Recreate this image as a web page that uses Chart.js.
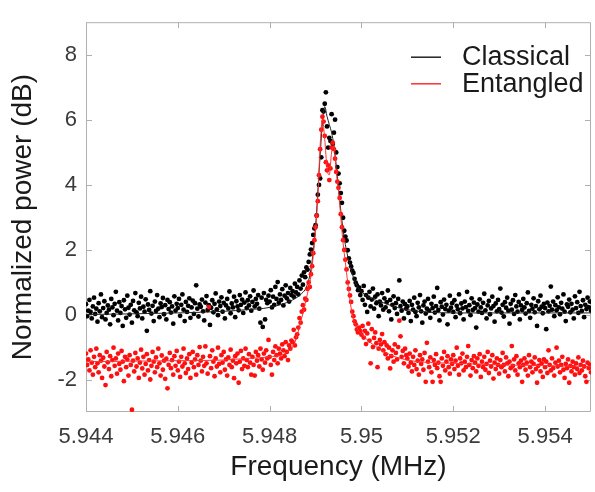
<!DOCTYPE html>
<html><head><meta charset="utf-8">
<script src="https://cdn.jsdelivr.net/npm/chart.js@4/dist/chart.umd.min.js"></script>
<style>html,body{margin:0;padding:0;background:#fff;}#wrap{width:595px;height:492px;}</style>
</head><body><div id="wrap"><canvas id="c" width="595" height="492"></canvas></div>
<script>
// sampling grid of the measurement (MHz)
const freqStart = 5.944;
const freqStep = 0.000025;

// Classical (black dots), dB
const classical = [
0.32,-0.05,0.12,0.45,0.08,-0.12,0.25,0.52,0.02,0.18,-0.22,0.35,0.10,0.62,-0.08,0.20,0.41,-0.15,0.05,0.28,
0.15,-0.30,0.48,0.22,-0.02,0.33,0.70,0.12,-0.18,0.38,0.05,0.26,-0.35,0.44,0.16,-0.10,0.58,0.21,0.00,0.30,
-0.25,0.42,0.13,0.66,0.07,-0.05,0.36,0.19,0.55,-0.12,0.24,0.09,0.47,-0.50,0.31,0.14,0.72,0.03,0.27,-0.20,
0.40,0.11,0.60,0.18,-0.08,0.34,0.23,0.51,0.01,0.29,-0.15,0.45,0.17,0.38,0.06,0.25,-0.28,0.56,0.12,0.33,
0.20,0.48,-0.04,0.30,0.62,0.15,-0.20,0.39,0.08,0.27,0.50,-0.10,0.22,0.43,0.02,0.35,0.90,0.18,-0.06,0.31,
0.24,0.46,0.10,-0.18,0.37,0.57,0.14,0.29,-0.32,0.21,0.44,0.07,0.33,0.65,0.16,-0.02,0.40,0.26,0.53,0.09,
0.36,-0.12,0.28,0.48,0.19,0.71,0.04,0.34,0.22,0.55,-0.08,0.41,0.25,0.13,0.60,0.30,0.46,0.05,0.37,0.68,
0.20,0.44,0.28,0.56,0.12,0.39,0.74,0.25,0.48,0.33,0.60,0.18,-0.25,0.52,-0.38,0.66,-0.15,0.45,0.35,0.58,
0.40,0.75,0.22,0.55,0.30,0.85,0.48,1.00,0.36,0.62,0.45,0.78,0.28,0.58,0.90,0.50,0.66,0.40,0.82,0.60,
0.72,0.55,0.95,0.68,0.85,0.62,1.05,0.80,1.20,0.92,1.30,1.15,1.45,1.38,1.62,1.85,2.00,2.20,2.45,2.65,
2.75,3.05,3.69,3.99,4.19,4.84,6.29,6.25,6.49,6.84,5.79,5.14,5.44,5.34,6.17,5.25,5.60,6.00,4.99,4.54,
4.34,4.04,3.74,3.44,2.98,2.58,2.40,2.28,1.98,1.73,1.60,1.48,1.35,1.28,1.10,0.98,0.90,0.75,0.83,0.60,
0.72,0.45,0.88,0.30,0.60,0.08,0.52,0.70,0.25,0.46,0.80,0.18,0.55,0.35,0.62,-0.05,0.40,0.28,0.66,0.15,
0.50,0.22,0.38,0.74,0.10,0.45,-0.15,0.30,0.56,0.20,0.35,0.02,0.48,1.05,0.26,0.12,0.40,-0.12,0.32,0.18,
0.25,0.05,0.42,-0.20,0.30,0.15,0.52,0.08,-0.05,0.36,0.22,0.60,0.10,-0.25,0.28,0.40,0.03,0.18,0.48,0.12,
-0.10,0.33,0.20,0.55,0.06,0.26,0.82,0.14,-0.18,0.38,0.24,0.00,0.46,0.17,0.30,-0.30,0.12,0.58,0.21,0.35,
0.08,0.44,-0.08,0.27,0.16,0.62,0.04,0.34,0.19,-0.15,0.40,0.23,0.70,0.11,0.29,-0.02,0.50,0.14,0.37,0.20,
-0.40,0.31,0.09,0.47,0.22,0.05,0.36,0.64,0.13,-0.12,0.28,0.42,0.01,0.19,0.55,0.26,-0.22,0.34,0.10,0.45,
0.17,0.80,0.06,0.30,-0.06,0.38,0.21,0.52,0.12,-0.28,0.33,0.15,0.44,0.02,0.60,0.25,0.09,0.39,-0.15,0.28,
0.14,0.48,0.22,0.03,0.35,0.68,0.11,-0.10,0.30,0.18,0.50,0.07,0.26,-0.35,0.41,0.16,0.58,0.24,0.04,0.33,
0.20,-0.45,0.37,0.10,0.27,0.86,0.15,0.40,-0.05,0.29,0.13,0.53,0.22,0.01,0.36,0.18,0.62,0.09,-0.20,0.31,
0.24,0.46,0.07,0.33,0.15,-0.12,0.56,0.20,0.38,0.05,0.70,0.26,0.11,0.44,-0.08,0.30,0.17,0.52,0.23,0.40,0.12
];

// Entangled (red dots), dB
const entangled = [
-1.20,-1.55,-1.38,-1.72,-1.10,-1.48,-1.85,-1.30,-1.62,-1.05,-1.50,-1.78,-1.25,-1.42,-1.95,-1.33,-1.60,-2.17,-1.15,-1.47,
-1.68,-1.28,-1.90,-1.40,-1.02,-1.58,-1.35,-1.82,-1.20,-1.52,-1.70,-1.12,-1.45,-2.05,-1.30,-1.62,-1.38,-1.88,-1.25,-1.55,
-2.93,-1.42,-1.75,-1.18,-1.60,-1.35,-1.95,-1.48,-1.08,-1.66,-1.30,-1.85,-1.52,-1.22,-1.72,-1.40,-2.00,-1.58,-1.15,-1.45,
-1.78,-1.32,-1.62,-1.05,-1.50,-1.88,-1.26,-1.70,-1.42,-1.98,-1.36,-2.27,-1.55,-1.18,-1.65,-1.40,-1.85,-1.28,-1.58,-1.12,
-1.72,-1.45,-1.92,-1.30,-1.60,-1.05,-1.50,-1.80,-1.35,-1.68,-1.22,-1.95,-1.48,-1.15,-1.62,-1.38,-1.85,-1.25,-1.55,-1.00,
-1.42,-1.75,-1.30,-1.58,-0.98,-1.50,-1.82,0.23,-1.28,-1.65,-1.10,-1.45,-1.90,-1.35,-1.60,-1.02,-1.52,-1.78,-1.25,-1.48,
-1.15,-1.70,-1.38,-1.88,-1.32,-1.55,-1.08,-1.62,-1.42,-1.96,-1.28,-1.50,-1.20,-2.10,-1.45,-1.12,-1.68,-1.35,-1.58,-1.05,
-1.40,-1.62,-1.22,-1.48,-1.85,-1.30,-1.55,-1.88,-1.15,-1.42,-1.25,-1.60,-1.05,-1.38,-1.70,-1.20,-1.48,-1.10,-1.35,-0.78,
-1.30,-1.55,-1.85,-1.15,-1.40,-0.98,-1.25,-1.50,-1.05,-1.20,-1.35,-0.92,-1.10,-1.28,-0.85,-1.15,-1.40,-0.95,-1.05,-0.80,
-0.85,-0.47,-0.95,-0.70,-0.61,-0.40,-0.11,-0.25,0.09,0.29,0.15,0.49,0.45,0.79,0.99,0.85,1.24,1.49,1.89,2.29,
2.69,3.04,3.49,4.29,5.09,5.69,6.09,5.94,5.50,4.69,4.44,4.59,4.14,4.50,5.14,5.29,5.09,4.80,4.39,4.09,
3.90,3.59,3.09,2.69,2.29,1.99,1.69,1.39,0.99,0.79,0.59,0.39,0.09,-0.05,-0.21,-0.30,-0.46,-0.55,-0.40,-0.51,
-0.62,-0.35,-0.71,-0.50,-0.91,-0.58,-0.28,-0.80,-1.50,-0.45,-1.00,-0.72,-0.55,-0.88,-1.62,-1.05,-0.78,-0.92,-0.60,-1.10,
-0.85,-1.22,-0.95,-1.35,-1.02,-1.66,-1.28,-1.10,-1.45,-0.92,-1.18,-1.38,-1.00,-0.19,-0.67,-1.30,-1.12,-1.50,-1.05,-1.25,
-1.35,-1.60,-1.20,-1.48,-1.75,-1.30,-1.55,-1.10,-1.68,-1.42,-1.85,-1.25,-1.52,-1.38,-1.70,-1.18,-2.07,-0.87,-1.45,-1.62,
-1.32,-1.78,-2.07,-1.40,-1.55,-1.22,-1.65,-1.48,-1.90,-2.07,-1.35,-1.58,-1.15,-1.72,-1.45,-1.28,-1.62,-1.82,-1.38,-1.52,
-1.25,-1.68,-1.42,-1.02,-1.58,-1.85,-1.35,-1.50,-1.20,-1.72,-1.45,-1.62,-1.30,-0.97,-1.55,-1.88,-1.40,-1.65,-1.28,-1.48,
-1.75,-1.35,-1.58,-1.22,-1.92,-1.45,-1.62,-1.30,-1.70,-1.52,-1.15,-1.80,-1.42,-1.60,-1.25,-1.97,-1.48,-1.68,-1.35,-1.55,
-1.82,-1.40,-1.62,-1.18,-1.55,-1.75,-1.32,-1.50,-1.90,-1.45,-1.65,-0.97,-1.58,-1.38,-1.72,-1.28,-1.85,-1.50,-1.62,-1.42,
-2.07,-1.55,-1.35,-1.70,-1.48,-1.88,-1.25,-1.62,-1.45,-1.78,-1.52,-1.32,-1.68,-2.10,-1.58,-1.40,-1.75,-1.50,-1.92,-1.38,
-1.62,-1.45,-1.80,-1.10,-1.55,-1.72,-1.35,-1.65,-1.88,-1.48,-1.02,-1.60,-1.42,-1.78,-1.55,-1.30,-1.70,-1.95,-1.52,-1.65,
-1.38,-2.10,-1.58,-1.75,-1.45,-1.62,-1.85,-1.50,-1.68,-1.32,-1.80,-1.55,-1.72,-1.42,-1.60,-1.90,-2.07,-1.48,-1.65,-1.55,-1.78
];

// fitted curves (thin lines)
const fitFreq = [5.944,5.946,5.947,5.9475,5.948,5.9485,5.9487,5.9488,5.9489,5.949,5.94905,5.9491,5.94915,5.9492,5.94925,5.9493,5.94935,5.9494,5.94945,5.9495,5.94955,5.9496,5.94965,5.9497,5.9498,5.9499,5.95,5.9505,5.951,5.952,5.955];
const fitClassical = [0.0,0.05,0.1,0.15,0.22,0.45,0.65,0.85,1.4,2.7,3.8,4.9,5.9,6.4,6.1,5.85,5.6,5.2,4.6,3.9,3.2,2.6,2.15,1.8,1.25,0.9,0.7,0.35,0.15,0.05,0.05];
const fitEntangled = [-1.45,-1.42,-1.4,-1.35,-1.3,-1.0,-0.1,0.5,1.2,2.6,3.6,5.2,6.0,5.4,4.5,4.3,5.0,5.2,4.4,3.8,3.0,2.2,1.6,1.0,0.0,-0.4,-0.6,-1.15,-1.4,-1.5,-1.6];

const xTicks = [5.944,5.946,5.948,5.95,5.952,5.954];
const yTicks = [-2,0,2,4,6,8];
const seriesNames = ['Classical','Entangled'];
const seriesColors = ['#000000','#ff1010'];
const lineColors = ['#222222','#ff3030'];

const FONT = "'Liberation Sans', Arial, Helvetica, sans-serif";

const pts = arr => arr.map((v,i)=>({x: freqStart + i*freqStep, y: v}));
const fit = arr => fitFreq.map((f,k)=>({x: f, y: arr[k]}));

const framePlugin = {
  id: 'frame',
  beforeDatasetsDraw(chart){
    const {ctx, chartArea:{left,right,top,bottom}, scales:{x,y}} = chart;
    ctx.save();
    ctx.strokeStyle = '#b0b0b0';
    ctx.lineWidth = 1;
    ctx.beginPath();
    ctx.rect(left+0.5, top+0.5, right-left-1, bottom-top-1);
    const L = 6;
    x.ticks.forEach(t=>{
      const px = Math.round(x.getPixelForValue(t.value))+0.5;
      ctx.moveTo(px, bottom); ctx.lineTo(px, bottom-L);
      ctx.moveTo(px, top); ctx.lineTo(px, top+L);
    });
    y.ticks.forEach(t=>{
      const py = Math.round(y.getPixelForValue(t.value))+0.5;
      ctx.moveTo(left, py); ctx.lineTo(left+L, py);
      ctx.moveTo(right, py); ctx.lineTo(right-L, py);
    });
    ctx.stroke();
    ctx.restore();
  },
  afterDraw(chart){
    const {ctx, chartArea:{right,top}} = chart;
    ctx.save();
    ctx.font = "27px " + FONT;
    ctx.textBaseline = 'alphabetic';
    ctx.textAlign = 'left';
    seriesNames.forEach((name,k)=>{
      const yMid = top + 35 + k*26.6;
      ctx.strokeStyle = lineColors[k];
      ctx.lineWidth = 1.5;
      ctx.beginPath();
      ctx.moveTo(right-180, yMid); ctx.lineTo(right-150, yMid);
      ctx.stroke();
      ctx.fillStyle = '#1a1a1a';
      ctx.fillText(name, right-129, yMid+8);
    });
    ctx.restore();
  }
};

new Chart(document.getElementById('c'), {
  type: 'scatter',
  data: {
    datasets: [
      {label: seriesNames[0], data: pts(classical), pointRadius: 2.4, pointBorderWidth: 0, pointBackgroundColor: seriesColors[0], backgroundColor: seriesColors[0], showLine: false, order: 4},
      {label: seriesNames[0]+' fit', data: fit(fitClassical), showLine: true, pointRadius: 0, borderColor: lineColors[0], borderWidth: 1, cubicInterpolationMode: 'monotone', order: 3},
      {label: seriesNames[1], data: pts(entangled), pointRadius: 2.4, pointBorderWidth: 0, pointBackgroundColor: seriesColors[1], backgroundColor: seriesColors[1], showLine: false, order: 2},
      {label: seriesNames[1]+' fit', data: fit(fitEntangled), showLine: true, pointRadius: 0, borderColor: lineColors[1], borderWidth: 1, cubicInterpolationMode: 'monotone', order: 1}
    ]
  },
  options: {
    responsive: false,
    devicePixelRatio: 1,
    animation: false,
    layout: {padding: {top: 11, right: 0, left: 0, bottom: 0}},
    plugins: {legend: {display: false}, tooltip: {enabled: false}},
    scales: {
      x: {
        type: 'linear', min: 5.944, max: 5.955,
        afterBuildTicks: s => { s.ticks = xTicks.map(v=>({value: v})); },
        afterFit: s => { s.height = 80; },
        grid: {display: false, drawTicks: false},
        border: {display: false},
        ticks: {font: {family: FONT, size: 22}, color: '#3a3a3a', padding: 12, maxRotation: 0,
                callback: v => String(Number(v.toFixed(3)))},
        title: {display: true, text: 'Frequency (MHz)', font: {family: FONT, size: 28}, color: '#1a1a1a', padding: {top: 0, bottom: 8}}
      },
      y: {
        type: 'linear', min: -3, max: 9,
        afterBuildTicks: s => { s.ticks = yTicks.map(v=>({value: v})); },
        afterFit: s => { s.width = 86; },
        grid: {display: false, drawTicks: false},
        border: {display: false},
        ticks: {font: {family: FONT, size: 22}, color: '#3a3a3a', padding: 9,
                callback: v => String(v)},
        title: {display: true, text: 'Normalized power (dB)', font: {family: FONT, size: 28}, color: '#1a1a1a', padding: {top: 6, bottom: 0}}
      }
    }
  },
  plugins: [framePlugin]
});
</script></body></html>
